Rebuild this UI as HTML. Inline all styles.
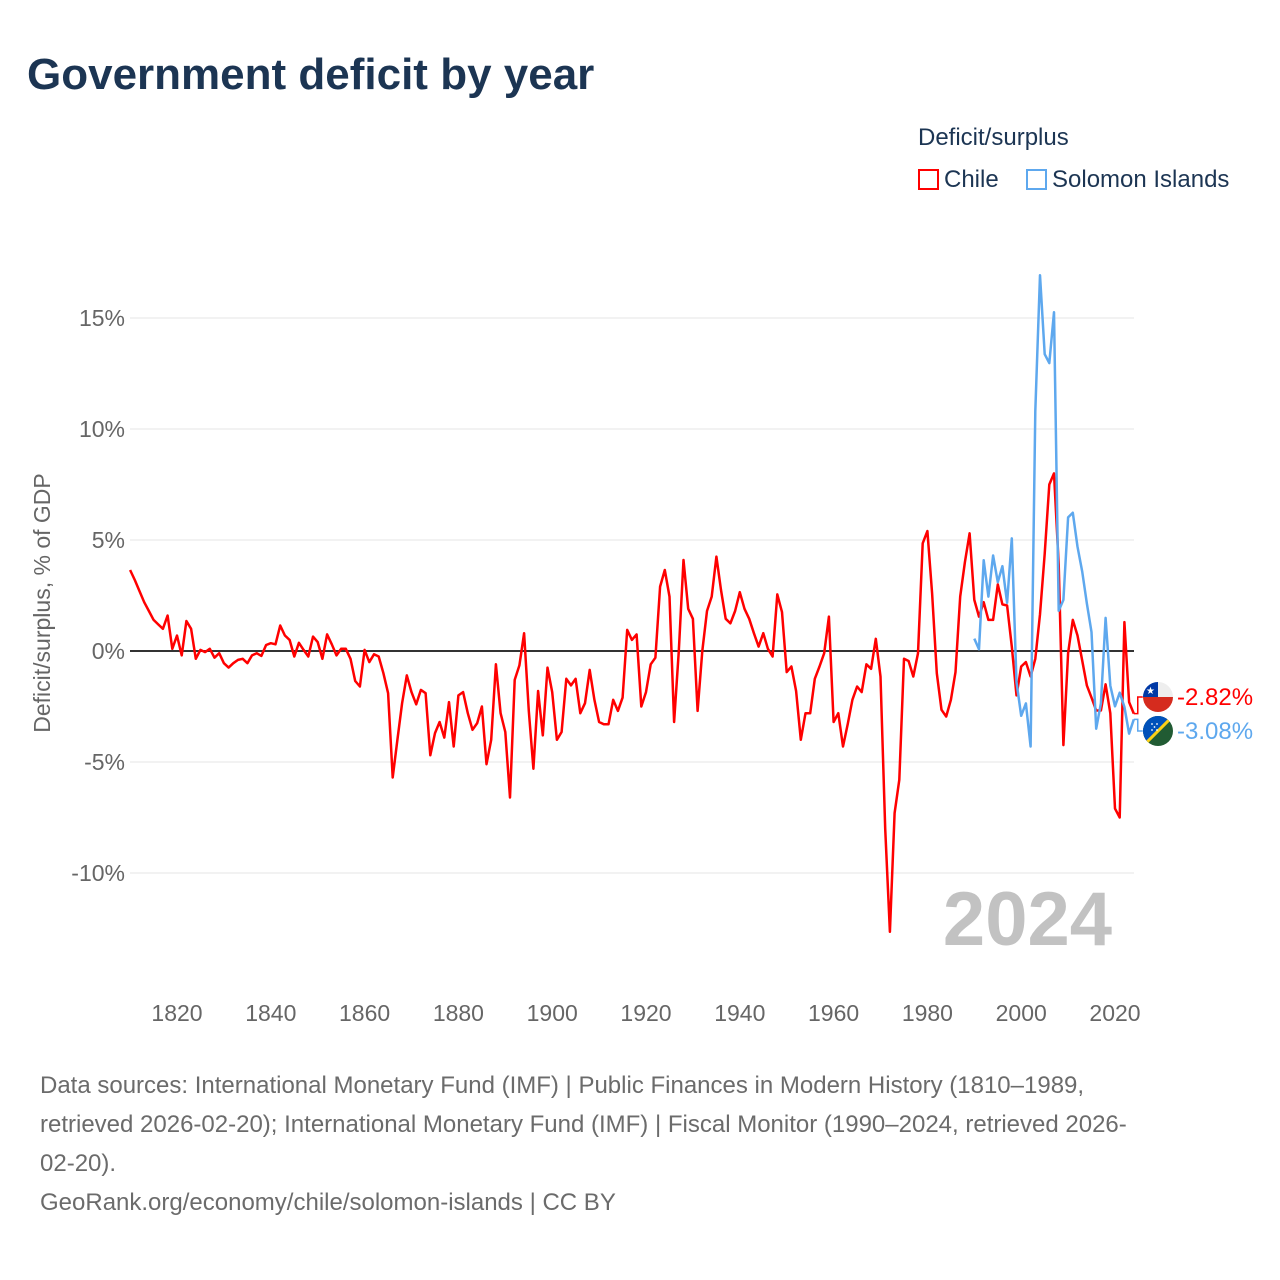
<!DOCTYPE html>
<html><head><meta charset="utf-8"><style>
body{margin:0;background:#fff;font-family:"Liberation Sans",sans-serif;}
#wrap{position:relative;width:1280px;height:1280px;overflow:hidden;}
.t{position:absolute;white-space:nowrap;}
</style></head><body>
<div id="wrap">
<div class="t" style="left:27px;top:50px;font-size:44px;font-weight:bold;color:#1c3553;">Government deficit by year</div>
<div class="t" style="left:918px;top:124px;font-size:24px;color:#1c3553;">Deficit/surplus</div>
<div class="t" style="left:918px;top:166px;font-size:24px;color:#1c3553;"><span style="display:inline-block;width:21px;height:21px;border:2px solid #f00;box-sizing:border-box;vertical-align:-3px;margin-right:5px;"></span>Chile</div>
<div class="t" style="left:1026px;top:166px;font-size:24px;color:#1c3553;"><span style="display:inline-block;width:21px;height:21px;border:2px solid #5ea8ee;box-sizing:border-box;vertical-align:-3px;margin-right:5px;"></span>Solomon Islands</div>
<svg id="chart" width="1280" height="1280" style="position:absolute;left:0;top:0;"></svg>
<div class="t" style="left:40px;top:1066px;font-size:24px;line-height:39px;color:#6b6b6b;">Data sources: International Monetary Fund (IMF) | Public Finances in Modern History (1810–1989,<br>retrieved 2026-02-20); International Monetary Fund (IMF) | Fiscal Monitor (1990–2024, retrieved 2026-<br>02-20).<br>GeoRank.org/economy/chile/solomon-islands | CC BY</div>
</div>
<script>
const yTicks=[15,10,5,0,-5,-10];
const xTicks=[1820,1840,1860,1880,1900,1920,1940,1960,1980,2000,2020];
const chileStart=1810;
const chileValues=[
3.65,3.2,2.7,2.2,1.8,1.4,1.2,1.0,1.6,0.1,
0.7,-0.2,1.35,1.0,-0.35,0.05,-0.05,0.1,-0.3,-0.1,
-0.55,-0.75,-0.55,-0.4,-0.35,-0.55,-0.2,-0.1,-0.22,0.27,
0.35,0.3,1.15,0.7,0.5,-0.25,0.37,0.05,-0.25,0.65,
0.4,-0.35,0.75,0.3,-0.2,0.1,0.1,-0.35,-1.35,-1.6,
0.05,-0.5,-0.15,-0.25,-1.0,-1.9,-5.7,-4.0,-2.35,-1.1,
-1.85,-2.4,-1.75,-1.9,-4.7,-3.7,-3.2,-3.9,-2.3,-4.3,
-2.0,-1.85,-2.8,-3.55,-3.25,-2.5,-5.1,-4.0,-0.6,-2.8,
-3.65,-6.6,-1.3,-0.65,0.8,-2.7,-5.3,-1.8,-3.8,-0.75,
-1.85,-4.0,-3.65,-1.25,-1.55,-1.25,-2.8,-2.35,-0.85,-2.2,
-3.2,-3.3,-3.3,-2.2,-2.7,-2.1,0.95,0.5,0.75,-2.5,
-1.85,-0.6,-0.3,2.9,3.65,2.45,-3.2,0,4.1,1.9,
1.45,-2.7,0,1.8,2.45,4.25,2.75,1.45,1.25,1.8,
2.65,1.9,1.45,0.8,0.2,0.8,0.1,-0.25,2.55,1.75,
-0.95,-0.7,-1.8,-4.0,-2.8,-2.8,-1.25,-0.7,-0.1,1.55,
-3.2,-2.8,-4.3,-3.3,-2.2,-1.6,-1.85,-0.6,-0.8,0.55,
-1.15,-8.0,-12.65,-7.3,-5.8,-0.35,-0.45,-1.15,-0.1,4.85,
5.4,2.6,-1.0,-2.65,-2.95,-2.2,-0.95,2.45,4.0,5.3,
2.3,1.55,2.2,1.4,1.4,3.0,2.1,2.05,0.2,-2.0,
-0.7,-0.5,-1.15,-0.35,1.65,4.38,7.5,8.0,3.9,-4.24,
-0.1,1.4,0.7,-0.43,-1.56,-2.1,-2.68,-2.68,-1.5,-2.8,
-7.1,-7.5,1.3,-2.3,-2.82];
const solomonStart=1990;
const solomonValues=[
0.56,0.08,4.09,2.45,4.3,3.1,3.82,2.17,5.07,-1.4,
-2.92,-2.36,-4.3,10.8,16.93,13.37,12.97,15.26,1.81,2.3,
6.02,6.23,4.7,3.58,2.13,0.85,-3.5,-2.36,1.49,-1.56,
-2.49,-1.88,-2.52,-3.72,-3.08];

const NS="http://www.w3.org/2000/svg";
const svg=document.getElementById('chart');
const X0=130.1,PX=4.69,Y0=651,PY=22.2,XL=130,XR=1134;
const xs=yr=>X0+(yr-1810)*PX;
const ys=v=>Y0-v*PY;
function mk(tag,attrs,parent){const e=document.createElementNS(NS,tag);for(const k in attrs)e.setAttribute(k,attrs[k]);(parent||svg).appendChild(e);return e;}

yTicks.forEach(t=>{
  if(t!==0){const g=mk('line',{x1:XL,x2:XR,y1:ys(t),y2:ys(t),stroke:'#e6e6e6','stroke-width':1});
  
  }
  const tx=mk('text',{x:125,y:ys(t)+8,'text-anchor':'end','font-size':23,fill:'#666','font-family':'Liberation Sans, sans-serif'});
  tx.textContent=t+'%';
  
  
});
xTicks.forEach(t=>{
  const tx=mk('text',{x:xs(t),y:1021,'text-anchor':'middle','font-size':23,fill:'#666','font-family':'Liberation Sans, sans-serif'});
  tx.textContent=t;
  
  
});
const yl=mk('text',{x:0,y:0,transform:'translate(50,603) rotate(-90)','text-anchor':'middle','font-size':23,fill:'#666','font-family':'Liberation Sans, sans-serif'});
yl.textContent='Deficit/surplus, % of GDP';



const zl=mk('line',{x1:XL,x2:XR,y1:Y0,y2:Y0,stroke:'#333','stroke-width':2});



const yr=mk('text',{x:1112,y:945,'text-anchor':'end','font-size':76,'font-weight':'bold',fill:'#c2c2c2','font-family':'Liberation Sans, sans-serif'});
yr.textContent='2024';



function series(start,vals,color,name){
  const d=vals.map((v,i)=>(i?'L':'M')+xs(start+i).toFixed(1)+','+ys(v).toFixed(1)).join(' ');
  const p=mk('path',{d:d,fill:'none',stroke:color,'stroke-width':2.5,'stroke-linejoin':'round'});
  
  
}
series(chileStart,chileValues,'#ff0000','chile-line');
series(solomonStart,solomonValues,'#5ea8ee','solomon-islands-line');

function endLabel(vals,start,ly,color,name,flag){
  const v=vals[vals.length-1],ex=xs(start+vals.length-1),ey=ys(v);
  const c=mk('path',{d:`M${ex},${ey} L${ex+4},${ey} L${ex+4},${ly} L${ex+9},${ly}`,fill:'none',stroke:color,'stroke-width':1.5});
  
  
  const g=mk('g',{});
  
  
  flag(g,1158,ly);
  const t=mk('text',{x:1177,y:ly+8,'font-size':24,fill:color,'font-family':'Liberation Sans, sans-serif'});
  t.textContent=v.toFixed(2)+'%';
  
  
}
function chileFlag(g,cx,cy){
  const r=15;
  const cp=mk('clipPath',{id:'cc'},g);mk('circle',{cx:cx,cy:cy,r:r},cp);
  const gg=mk('g',{'clip-path':'url(#cc)'},g);
  mk('rect',{x:cx-r,y:cy-r,width:2*r,height:r,fill:'#eee'},gg);
  mk('rect',{x:cx-r,y:cy,width:2*r,height:r,fill:'#d52b1e'},gg);
  mk('rect',{x:cx-r,y:cy-r,width:r,height:r,fill:'#0039a6'},gg);
  mk('text',{x:cx-7.5,y:cy-3,'font-size':10,fill:'#fff','text-anchor':'middle'},gg).textContent='★';
}
function solFlag(g,cx,cy){
  const r=15;
  const cp=mk('clipPath',{id:'cs'},g);mk('circle',{cx:cx,cy:cy,r:r},cp);
  const gg=mk('g',{'clip-path':'url(#cs)'},g);
  mk('rect',{x:cx-r,y:cy-r,width:2*r,height:2*r,fill:'#215b33'},gg);
  mk('polygon',{points:`${cx-r},${cy-r} ${cx+r},${cy-r} ${cx-r},${cy+r}`,fill:'#0051ba'},gg);
  mk('line',{x1:cx-r,y1:cy+r,x2:cx+r,y2:cy-r,stroke:'#fcd116','stroke-width':3},gg);
  [[-6,-7],[-1,-7],[-3.5,-4],[-6,-1],[-1,-1]].forEach(p=>mk('circle',{cx:cx+p[0],cy:cy+p[1],r:0.9,fill:'#fff'},gg));
}
endLabel(chileValues,chileStart,697,'#ff0000','chile',chileFlag);
endLabel(solomonValues,solomonStart,731,'#5ea8ee','solomon-islands',solFlag);
</script>
</body></html>
